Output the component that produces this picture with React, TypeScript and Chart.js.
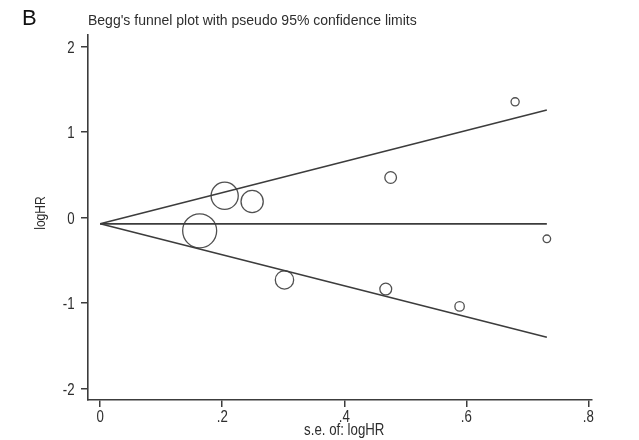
import React, { useEffect, useRef } from "react";
import { Chart, registerables } from "chart.js";

Chart.register(...registerables);

// Study estimates (standard error of logHR, logHR)
const seValues = [0.163, 0.204, 0.249, 0.302, 0.476, 0.468, 0.589, 0.68, 0.732];
const logHRValues = [-0.156, 0.254, 0.187, -0.73, 0.468, -0.837, -1.04, 1.353, -0.249];

// Pooled estimate and pseudo 95% confidence limits
const pooledLogHR = -0.074;
const maxSE = 0.732;
const upperLimitAtMax = 1.258;
const lowerLimitAtMax = -1.402;

// Axis ticks
const xTickValues = [0, 0.2, 0.4, 0.6, 0.8];
const xTickLabels = ["0", ".2", ".4", ".6", ".8"];
const yTickValues = [-2, -1, 0, 1, 2];
const yTickLabels = ["-2", "-1", "0", "1", "2"];

const panelLetter = "B";
const chartTitle = "Begg's funnel plot with pseudo 95% confidence limits";
const xAxisTitle = "s.e. of: logHR";
const yAxisTitle = "logHR";

const FONT = "'Liberation Sans', Arial, sans-serif";
const TEXT = "#2e2e2e";
const LINE = "#3c3c3c";
const SQUEEZE = 0.78;

function squeezedText(ctx: any, text: string, x: number, y: number, align: string) {
  ctx.save();
  ctx.translate(x, y);
  ctx.scale(SQUEEZE, 1);
  ctx.textAlign = align;
  ctx.fillText(text, 0, 0);
  ctx.restore();
}

export default function App() {
  const ref = useRef<HTMLCanvasElement | null>(null);

  useEffect(() => {
    if (!ref.current) return;
    const points = seValues.map((s, i) => ({ x: s, y: logHRValues[i] }));
    const textPlugin = {
      id: "axisText",
      afterDraw(chart: any) {
        const ctx = chart.ctx;
        const xs = chart.scales.x;
        const ys = chart.scales.y;
        ctx.save();
        ctx.textBaseline = "alphabetic";
        ctx.textAlign = "left";
        ctx.fillStyle = "#111";
        ctx.font = `22px ${FONT}`;
        ctx.fillText(panelLetter, 22, 25);
        ctx.fillStyle = TEXT;
        ctx.font = `14px ${FONT}`;
        ctx.fillText(chartTitle, 88, 25);

        ctx.font = `17px ${FONT}`;
        // y tick labels
        ctx.textBaseline = "middle";
        yTickValues.forEach((v, i) => {
          squeezedText(ctx, yTickLabels[i], 74.5, ys.getPixelForValue(v) + 1.5, "right");
        });
        // x tick labels
        ctx.textBaseline = "alphabetic";
        xTickValues.forEach((v, i) => {
          squeezedText(ctx, xTickLabels[i], xs.getPixelForValue(v), 421.5, "center");
        });
        // x title
        squeezedText(ctx, xAxisTitle, (xs.getPixelForValue(0) + xs.getPixelForValue(0.8)) / 2, 434.5, "center");
        // y title
        ctx.font = `15.5px ${FONT}`;
        ctx.save();
        ctx.translate(44.5, (ys.top + ys.bottom) / 2 - 4.5);
        ctx.rotate(-Math.PI / 2);
        ctx.scale(SQUEEZE, 1);
        ctx.textAlign = "center";
        ctx.textBaseline = "alphabetic";
        ctx.fillText(yAxisTitle, 0, 0);
        ctx.restore();
        ctx.restore();
      },
    };
    const chart = new Chart(ref.current, {
      type: "scatter",
      data: {
        datasets: [
          {
            type: "line",
            data: [
              { x: 0, y: pooledLogHR },
              { x: maxSE, y: upperLimitAtMax },
            ],
            borderColor: LINE,
            borderWidth: 1.6,
            pointRadius: 0,
            fill: false,
          },
          {
            type: "line",
            data: [
              { x: 0, y: pooledLogHR },
              { x: maxSE, y: pooledLogHR },
            ],
            borderColor: LINE,
            borderWidth: 1.6,
            pointRadius: 0,
            fill: false,
          },
          {
            type: "line",
            data: [
              { x: 0, y: pooledLogHR },
              { x: maxSE, y: lowerLimitAtMax },
            ],
            borderColor: LINE,
            borderWidth: 1.6,
            pointRadius: 0,
            fill: false,
          },
          {
            type: "scatter",
            data: points,
            showLine: false,
            pointStyle: "circle",
            pointRadius: (c: any) => 2.77 / seValues[c.dataIndex],
            pointHoverRadius: (c: any) => 2.77 / seValues[c.dataIndex],
            backgroundColor: "rgba(0,0,0,0)",
            borderColor: "#505050",
            borderWidth: 1.3,
          },
        ],
      },
      options: {
        animation: false,
        responsive: false,
        maintainAspectRatio: false,
        layout: { padding: { top: 35, right: 47, left: 0, bottom: 0 } },
        plugins: {
          legend: { display: false },
          tooltip: { enabled: false },
          title: { display: false },
        },
        scales: {
          x: {
            type: "linear",
            min: -0.02,
            max: 0.806,
            afterBuildTicks: (s: any) => {
              s.ticks = xTickValues.map((v) => ({ value: v }));
            },
            afterFit: (s: any) => {
              s.height = 40;
            },
            ticks: { display: false },
            grid: {
              drawOnChartArea: false,
              drawTicks: true,
              tickLength: 7,
              color: LINE,
              lineWidth: 1.5,
            },
            border: { display: true, color: LINE, width: 1.6 },
            title: { display: false },
          },
          y: {
            type: "linear",
            min: -2.135,
            max: 2.135,
            afterBuildTicks: (s: any) => {
              s.ticks = yTickValues.map((v) => ({ value: v }));
            },
            afterFit: (s: any) => {
              s.width = 88;
            },
            ticks: { display: false },
            grid: {
              drawOnChartArea: false,
              drawTicks: true,
              tickLength: 7,
              color: LINE,
              lineWidth: 1.5,
            },
            border: { display: true, color: LINE, width: 1.6 },
            title: { display: false },
          },
        },
      },
      plugins: [textPlugin],
    } as any);
    return () => chart.destroy();
  }, []);

  return (
    <div style={{ position: "fixed", left: 0, top: 0, width: 639, height: 440, background: "#fff" }}>
      <canvas ref={ref} width={639} height={440} style={{ display: "block", width: 639, height: 440 }} />
    </div>
  );
}
